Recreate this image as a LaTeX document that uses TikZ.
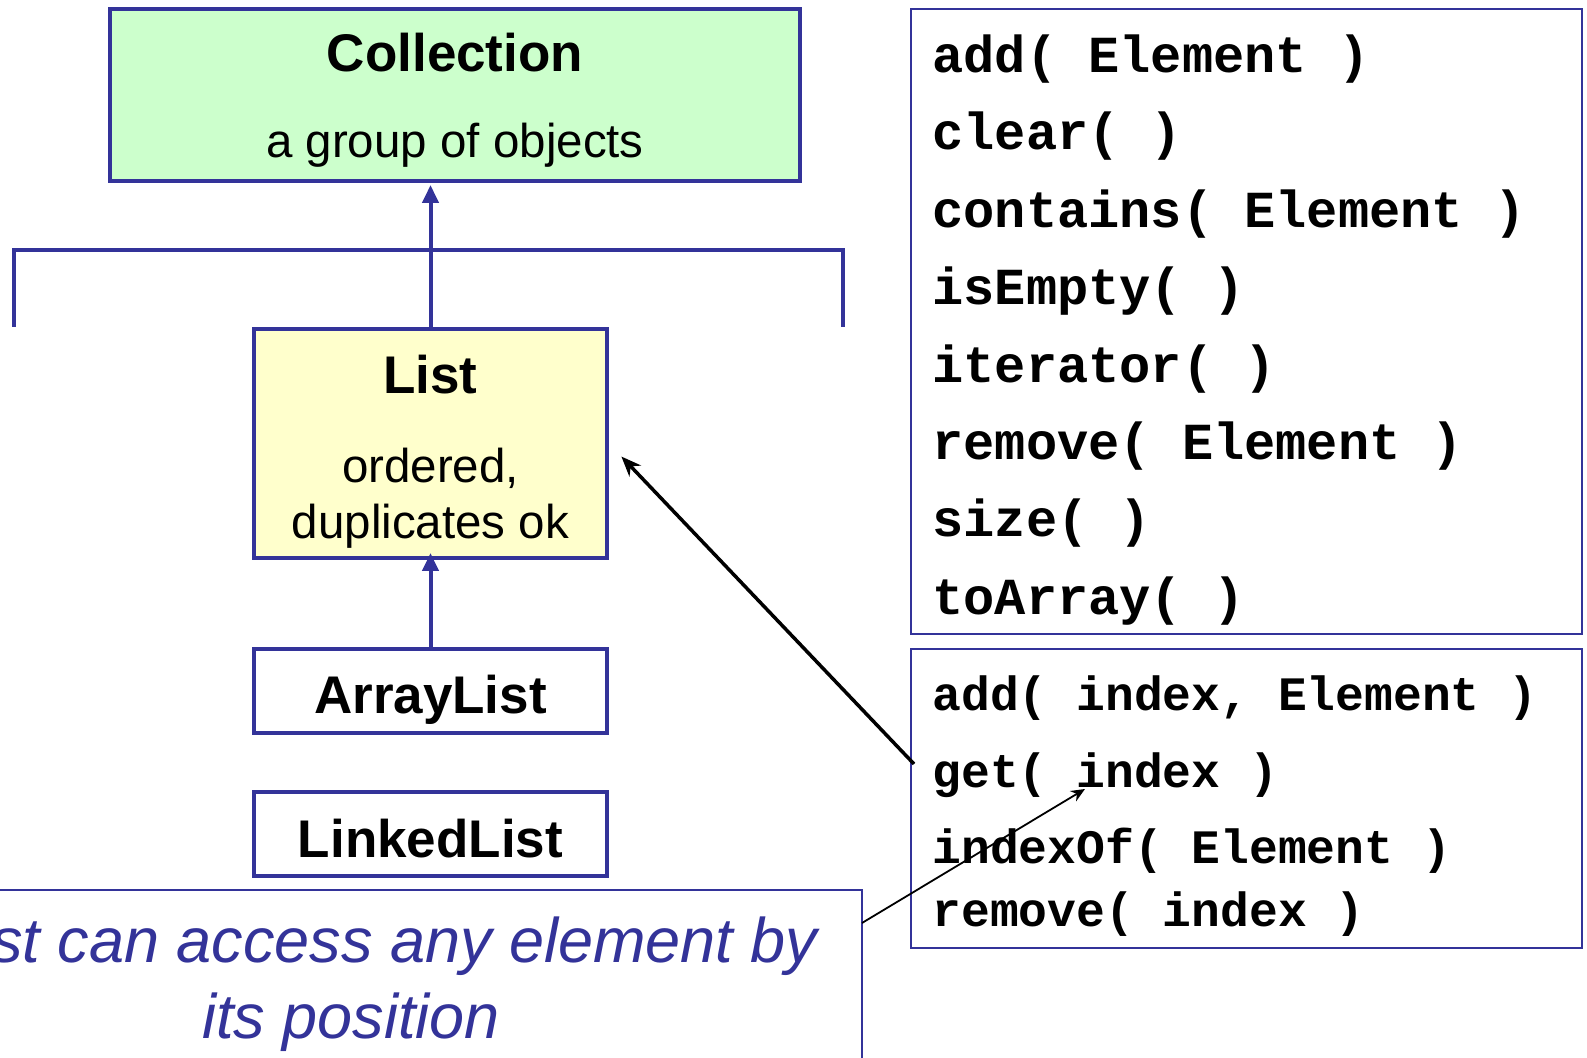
\documentclass[tikz,border=0pt]{standalone}
\usepackage{fontspec}
\setmainfont{Liberation Sans}
\setmonofont{Liberation Mono}
\usetikzlibrary{arrows.meta}
\definecolor{umlblue}{HTML}{333399}
\definecolor{ifacegreen}{HTML}{CCFFCC}
\definecolor{listyellow}{HTML}{FFFFCC}
\tikzset{
  classbox/.style={draw=umlblue, line width=2pt, inner sep=0pt},
  methodbox/.style={draw=umlblue, line width=1pt, inner sep=0pt},
  inherit/.style={draw=umlblue, line width=2pt, -{Triangle[length=9pt,width=8pt]}},
  bracket/.style={draw=umlblue, line width=2pt},
  classname/.style={font=\fontsize{26.5pt}{30pt}\selectfont\bfseries, anchor=base, inner sep=0pt},
  classdesc/.style={font=\fontsize{23.75pt}{28pt}\selectfont, anchor=base, inner sep=0pt},
  methodA/.style={font=\fontsize{26pt}{30pt}\selectfont\ttfamily\bfseries, anchor=base west, inner sep=0pt},
  methodB/.style={font=\fontsize{24pt}{28pt}\selectfont\ttfamily\bfseries, anchor=base west, inner sep=0pt},
  notetext/.style={font=\fontsize{31.5pt}{36pt}\selectfont\itshape, text=umlblue, inner sep=0pt},
  pointer/.style={draw=black, line width=1.75pt, -{Stealth[length=10pt,width=8pt]}},
  thinpointer/.style={draw=black, line width=0.9pt, -{Stealth[length=7pt,width=6pt]}},
}
\begin{document}
\begin{tikzpicture}[x=0.5pt,y=-0.5pt]
\useasboundingbox[fill=white] (0,0) rectangle (1587,1058);
\begin{scope}
\clip (0,0) rectangle (1587,1058);

% class hierarchy boxes
\node[classbox, fill=ifacegreen, minimum width=345pt, minimum height=86pt] (Collection) at (455,95) {};
\node[classbox, fill=listyellow, minimum width=176.5pt, minimum height=114.5pt] (List) at (430.5,443.5) {};
\node[classbox, minimum width=176.5pt, minimum height=42pt] (ArrayList) at (430.5,691) {};
\node[classbox, minimum width=176.5pt, minimum height=42pt] (LinkedList) at (430.5,834) {};

\node[classname] (collT) at (455,72) {Collection};
\node[classdesc] (collD) at (455,158) {a group of objects};
\node[classname] (listT) at (430.5,394) {List};
\node[classdesc] (listD1) at (430.5,483) {ordered,};
\node[classdesc] (listD2) at (430.5,539) {duplicates ok};
\node[classname] (arrT) at (430.5,714) {ArrayList};
\node[classname] (lnkT) at (430.5,858) {LinkedList};

% bracket spanning the sub-interfaces
\coordinate (brL) at (14,327);
\coordinate (brR) at (843,327);
\draw[bracket] (brL) -- ++(0,-77) -| (brR);

% inheritance arrows
\draw[inherit, shorten >=1pt] (List.north) -- (List.north |- Collection.south);
\draw[inherit] ([yshift=-2pt]ArrayList.north) -- ([yshift=3.5pt]ArrayList.north |- List.south);

% method lists
\node[methodbox, minimum width=335.5pt, minimum height=312.5pt] (common) at (1246.5,321.5) {};
\node[methodbox, minimum width=335.5pt, minimum height=149.5pt] (listops) at (1246.5,798.5) {};

\node[methodA] (m1) at (932,73)  {add( Element )};
\node[methodA] (m2) at (932,150) {clear( )};
\node[methodA] (m3) at (932,228) {contains( Element )};
\node[methodA] (m4) at (932,305) {isEmpty( )};
\node[methodA] (m5) at (932,383) {iterator( )};
\node[methodA] (m6) at (932,460) {remove( Element )};
\node[methodA] (m7) at (932,537) {size( )};
\node[methodA] (m8) at (932,615) {toArray( )};

\node[methodB] (l1) at (932,711) {add( index, Element )};
\node[methodB] (l2) at (932,788) {get( index )};
\node[methodB] (l3) at (932,864) {indexOf( Element )};
\node[methodB] (l4) at (932,927) {remove( index )};

% note box
\node[methodbox, minimum width=441pt, minimum height=105pt] (note) at (421,995) {};
\node[notetext, anchor=base east] (noteL1) at (818,963) {st can access any element by};
\node[notetext, anchor=base] (noteL2) at (351,1039) {its position};

% pointers
\coordinate (getcall) at (914,764);
\coordinate (noteR) at (862,923);
\coordinate (getarg) at (1085,789);
\draw[pointer, shorten >=9pt] (getcall) -- (List.east);
\draw[thinpointer] (noteR) -- (getarg);
\end{scope}
\end{tikzpicture}
\end{document}
